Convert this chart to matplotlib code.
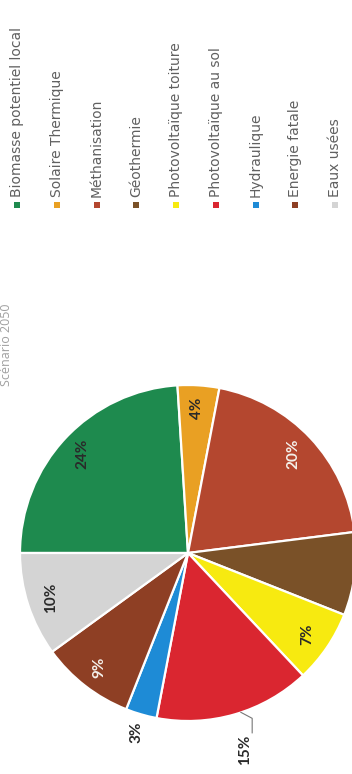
import numpy as np
import matplotlib.pyplot as plt

# energy mix shares (%)
labels = ["Biomasse potentiel local", "Solaire Thermique", "Méthanisation",
          "Géothermie", "Photovoltaïque toiture", "Photovoltaïque au sol",
          "Hydraulique", "Energie fatale", "Eaux usées"]
shares = [24, 4, 20, 8, 7, 15, 3, 9, 10]
pct_labels = ["24%", "4%", "20%", "", "7%", "15%", "3%", "9%", "10%"]
colors = ["#1E8A4E", "#E9A023", "#B4472F", "#7A5128", "#F7EA10",
          "#DA2630", "#1E8BD6", "#8E3F24", "#D4D4D4"]
label_colors = ["#2a2a2a", "#2a2a2a", "#f4f0ea", "#2a2a2a", "#2a2a2a",
                "#2a2a2a", "#2a2a2a", "#f4f0ea", "#2a2a2a"]
title = "Scénario 2050"

W, H = 352, 774
fig = plt.figure(figsize=(W / 100, H / 100), dpi=100)
ax = fig.add_axes([0, 0, 1, 1])

# page is turned a quarter, so the pie starts at the left and text runs upward
cx, cy, R = 188, H - 553, 168
wedges, _ = ax.pie(shares, colors=colors, startangle=180, counterclock=False,
                   center=(cx, cy), radius=R, frame=True,
                   wedgeprops=dict(edgecolor="white", linewidth=1.6))
ax.set_xlim(0, W)
ax.set_ylim(0, H)
ax.set_aspect("equal")
ax.axis("off")

for i, w in enumerate(wedges):
    if not pct_labels[i]:
        continue
    ang = np.deg2rad((w.theta1 + w.theta2) / 2)
    dist = 0.86
    if pct_labels[i] == "3%":
        dist = 1.11
    elif pct_labels[i] == "15%":
        dist = 1.22
    x = cx + dist * R * np.cos(ang)
    y = cy + dist * R * np.sin(ang)
    ax.text(x, y, pct_labels[i], rotation=90, ha="center", va="center",
            rotation_mode="anchor", fontsize=11, fontweight="bold",
            family="Lato", color=label_colors[i])
    if pct_labels[i] == "15%":
        ex = cx + 1.0 * R * np.cos(ang) + 6
        ey = cy + 1.0 * R * np.sin(ang) + 2
        ax.plot([x + 7, x + 7, ex], [y + 17, ey - 6, ey],
                color="#777777", lw=0.8)

# legend column, one entry per slice
for i, (name, c) in enumerate(zip(labels, colors)):
    lx = 17 + i * 39.75
    ax.scatter([lx], [H - 205], marker="s", s=24, color=c, linewidths=0)
    ax.text(lx, H - 197, name, rotation=90, ha="left", va="center",
            rotation_mode="anchor", fontsize=10, family="DejaVu Sans",
            color="#606060")

ax.text(7, H - 345, title, rotation=90, ha="center", va="center",
        rotation_mode="anchor", fontsize=9, family="Open Sans",
        color="#a0a0a0")

fig.savefig("out.png", dpi=100)
